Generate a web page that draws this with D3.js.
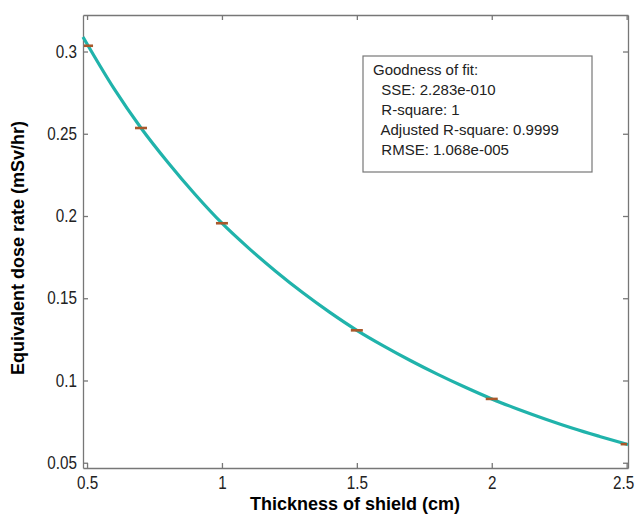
<!DOCTYPE html>
<html>
<head>
<meta charset="utf-8">
<script src="https://cdn.jsdelivr.net/npm/d3@7"></script>
<style>
  body { margin: 0; background: #fff; }
  svg { display: block; font-family: Arial, "Liberation Sans", sans-serif; }
</style>
</head>
<body>
<svg width="635" height="517"></svg>
<script>
// measured points (thickness in cm, dose rate in mSv/hr)
const thickness = [0.5, 0.7, 1.0, 1.5, 2.0, 2.5];
const doseRate = [0.3035, 0.2535, 0.1956, 0.1305, 0.0888, 0.0613];

// fitted curve
const fitX = [0.485, 0.6, 0.7, 0.8, 0.9, 1.0, 1.1, 1.2, 1.3, 1.4, 1.5, 1.6, 1.7, 1.8, 1.9, 2.0, 2.1, 2.2, 2.3, 2.4, 2.505];
const fitY = [0.3088, 0.2774, 0.2535, 0.2325, 0.2132, 0.1956, 0.1803, 0.1663, 0.1533, 0.1414, 0.1305,
              0.1209, 0.1120, 0.1037, 0.0960, 0.0888, 0.0824, 0.0765, 0.0710, 0.0660, 0.0610];

const xTicks = [0.5, 1, 1.5, 2, 2.5];
const yTicks = [0.05, 0.1, 0.15, 0.2, 0.25, 0.3];

const fitLines = [
    "Goodness of fit:",
    "  SSE: 2.283e-010",
    "  R-square: 1",
    "  Adjusted R-square: 0.9999",
    "  RMSE: 1.068e-005"
];

const margin = { left: 83, right: 7, top: 15, bottom: 49 };
const width = 635, height = 517;

const svg = d3.select("svg");

const x = d3.scaleLinear().domain([0.485, 2.505]).range([margin.left, width - margin.right]);
const y = d3.scaleLinear().domain([0.0468, 0.3222]).range([height - margin.bottom, margin.top]);

const axisColor = "#777";

// axes with inward ticks on all four sides
const gBottom = svg.append("g")
    .attr("transform", `translate(0,${height - margin.bottom})`)
    .call(d3.axisBottom(x).tickValues(xTicks).tickFormat(d3.format("")).tickSizeInner(-5).tickSizeOuter(0).tickPadding(9));
const gTop = svg.append("g")
    .attr("transform", `translate(0,${margin.top})`)
    .call(d3.axisTop(x).tickValues(xTicks).tickFormat("").tickSizeInner(-5).tickSizeOuter(0));
const gLeft = svg.append("g")
    .attr("transform", `translate(${margin.left},0)`)
    .call(d3.axisLeft(y).tickValues(yTicks).tickFormat(d3.format("")).tickSizeInner(-5).tickSizeOuter(0));
const gRight = svg.append("g")
    .attr("transform", `translate(${width - margin.right},0)`)
    .call(d3.axisRight(y).tickValues(yTicks).tickFormat("").tickSizeInner(-5).tickSizeOuter(0));

[gBottom, gTop, gLeft, gRight].forEach(g => {
    g.selectAll("path, line").attr("stroke", axisColor).attr("stroke-width", 1.3);
    g.selectAll("text").attr("font-size", 17.5).attr("fill", "#222").attr("transform", "scale(0.87,1)");
});
gLeft.selectAll("text").attr("x", -7);
// the last x label sits a little in from the edge
gBottom.selectAll("text").filter(d => d === 2.5).attr("x", -4);

// fitted curve
svg.append("path")
    .datum(fitX.map((d, i) => [d, fitY[i]]))
    .attr("fill", "none")
    .attr("stroke", "#20b3ab")
    .attr("stroke-width", 3.2)
    .attr("d", d3.line().x(d => x(d[0])).y(d => y(d[1])).curve(d3.curveMonotoneX));

// data markers
svg.selectAll(".mark")
    .data(thickness)
    .enter().append("line")
    .attr("class", "mark")
    .attr("x1", d => Math.max(x(d) - 6, margin.left + 1))
    .attr("x2", d => Math.min(x(d) + 6, width - margin.right - 1))
    .attr("y1", (d, i) => y(doseRate[i]))
    .attr("y2", (d, i) => y(doseRate[i]))
    .attr("stroke", "#a9582b")
    .attr("stroke-width", 2.6);

// goodness of fit box
const box = svg.append("g").attr("transform", "translate(363,56)");
box.append("rect")
    .attr("width", 229).attr("height", 116)
    .attr("fill", "#fff").attr("stroke", axisColor).attr("stroke-width", 1.2);
box.selectAll("text")
    .data(fitLines)
    .enter().append("text")
    .attr("x", 10)
    .attr("y", (d, i) => 19 + i * 20)
    .attr("font-size", 15)
    .attr("fill", "#222")
    .style("white-space", "pre")
    .text(d => d);

// axis titles
svg.append("text")
    .attr("x", 355).attr("y", 510)
    .attr("text-anchor", "middle")
    .attr("font-size", 18).attr("font-weight", "bold")
    .text("Thickness of shield (cm)");

svg.append("text")
    .attr("transform", "translate(24,248) rotate(-90)")
    .attr("text-anchor", "middle")
    .attr("font-size", 18).attr("font-weight", "bold")
    .text("Equivalent dose rate (mSv/hr)");
</script>
</body>
</html>
